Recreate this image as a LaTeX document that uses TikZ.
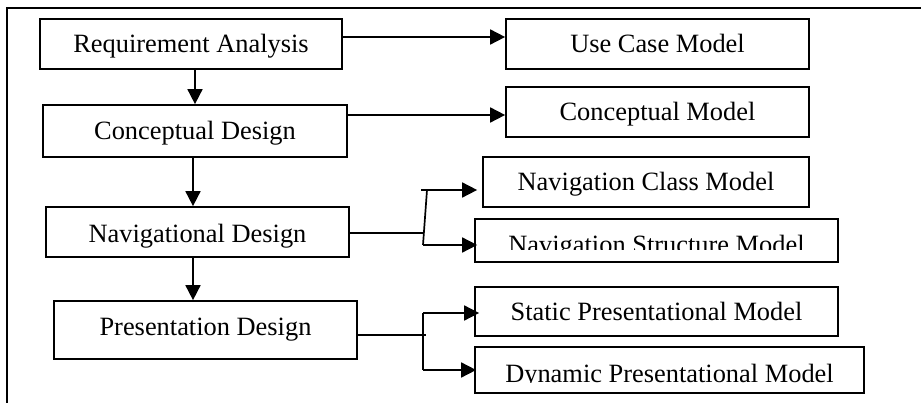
\documentclass[tikz,border=0pt]{standalone}
\usepackage{fontspec}
\setmainfont{Liberation Serif}
\usetikzlibrary{arrows.meta}
\begin{document}
\begin{tikzpicture}[x=1pt,y=-1pt,line width=1.7pt,
  box/.style={draw, line width=1.7pt, inner sep=0pt,
    font=\fontsize{26.4pt}{30pt}\selectfont,
    text height=17.5pt, text depth=0pt, align=center},
  txt/.style={inner sep=0pt, font=\fontsize{26.4pt}{30pt}\selectfont},
  arr/.style={-{Triangle[length=15pt,width=15pt]}},
  frame/.style={line width=1.7pt}]
\useasboundingbox (0,0) rectangle (921,403);
% frame
\draw[frame] (7,403) -- (7,8) -- (921,8);
% boxes
\node[box, minimum width=302pt, minimum height=50pt] (ra) at (191,44) {Requirement Analysis};
\node[box, minimum width=304pt, minimum height=52pt] (cd) at (195,131) {Conceptual Design};
\node[box, minimum width=303pt, minimum height=50pt, text height=21pt] (nd) at (197.5,232) {Navigational Design};
\node[box, minimum width=303pt, minimum height=58pt, text depth=6.5pt] (pd) at (205.5,330) {Presentation Design};
\node[box, minimum width=303pt, minimum height=50pt] (ucm) at (657.5,44) {Use Case Model};
\node[box, minimum width=303pt, minimum height=50pt] (cm) at (657.5,112) {Conceptual Model};
\node[box, minimum width=326pt, minimum height=50pt] (ncm) at (646,182) {Navigation Class Model};
\node[box, minimum width=363pt, minimum height=43pt] (nsm) at (656.5,240.5) {};
\node[box, minimum width=363pt, minimum height=49pt] (spm) at (656.5,311.5) {Static Presentational Model};
\node[box, minimum width=389pt, minimum height=46pt] (dpm) at (669.5,370) {};
% clipped texts
\begin{scope}
  \clip (475,219) rectangle (838,250);
  \node[txt, anchor=base] (nsmt) at (656.5,254) {Navigation Structure Model};
\end{scope}
\begin{scope}
  \clip (475,347) rectangle (864,382);
  \node[txt, anchor=base] (dpmt) at (669.5,382.5) {Dynamic Presentational Model};
\end{scope}
% connectors
\coordinate (ya) at (0,37);
\coordinate (yb) at (0,115);
\coordinate (xc) at (193,0);
\draw[arr] (ra.east |- ya) -- (ucm.west |- ya);
\draw[arr] (cd.east |- yb) -- (cm.west |- yb);
\draw[arr] (ra.south -| cd.north) -- (cd.north);
\draw[arr] (cd.south -| xc) -- (nd.north -| xc);
\draw[arr] (nd.south -| xc) -- (pd.north -| xc);
% navigational fork
\coordinate (n1) at (423,233);
\coordinate (n2) at (427,190);
\coordinate (n3) at (423,245);
\draw (nd.east |- n1) -- (n1);
\draw (n2) -- (n3);
\draw[arr] ([xshift=-6pt]n2) -- ([xshift=-5pt]ncm.west |- n2);
\draw[arr] (n3) -- ([xshift=3pt]nsm.west |- n3);
% presentation fork
\coordinate (p1) at (423,335);
\coordinate (p2) at (423,313);
\coordinate (p3) at (423,370);
\draw (pd.east |- p1) -- ([xshift=3pt]p1);
\draw (p2) -- (p3);
\draw[arr] (p2) -- ([xshift=5pt]spm.west |- p2);
\draw[arr] (p3) -- ([xshift=2pt]dpm.west |- p3);
\end{tikzpicture}
\end{document}
